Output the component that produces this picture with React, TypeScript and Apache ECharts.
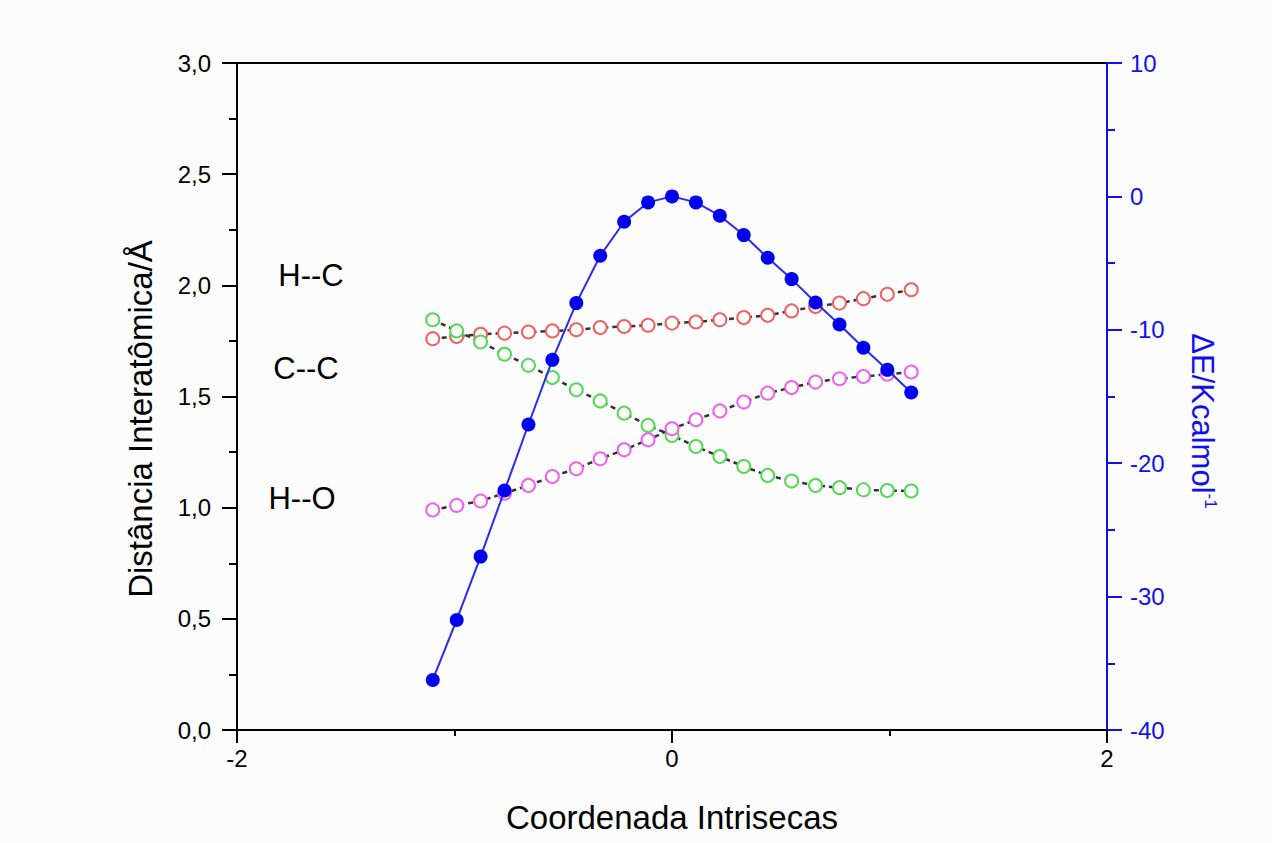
import React, { useEffect, useRef } from "react";
import * as echarts from "echarts";

const xCoords = [-1.1, -0.99, -0.88, -0.77, -0.66, -0.55, -0.44, -0.33, -0.22, -0.11, 0, 0.11, 0.22, 0.33, 0.44, 0.55, 0.66, 0.77, 0.88, 0.99, 1.1];
const hcDist = [1.76, 1.77, 1.78, 1.785, 1.79, 1.795, 1.8, 1.81, 1.815, 1.82, 1.83, 1.835, 1.845, 1.855, 1.865, 1.885, 1.905, 1.92, 1.94, 1.96, 1.98];
const ccDist = [1.845, 1.795, 1.745, 1.69, 1.64, 1.585, 1.53, 1.48, 1.425, 1.37, 1.325, 1.275, 1.23, 1.185, 1.145, 1.12, 1.1, 1.09, 1.08, 1.077, 1.075];
const hoDist = [0.99, 1.01, 1.03, 1.065, 1.1, 1.14, 1.175, 1.22, 1.26, 1.305, 1.355, 1.395, 1.435, 1.475, 1.515, 1.54, 1.565, 1.58, 1.59, 1.6, 1.61];
const energy = [-36.25, -31.75, -27.0, -22.05, -17.1, -12.25, -8.0, -4.45, -1.9, -0.45, 0, -0.45, -1.45, -2.9, -4.6, -6.2, -7.95, -9.6, -11.35, -13.0, -14.7];

const bondLabels = ["H--C", "C--C", "H--O"];

const FONT = "'Liberation Sans', Arial, 'DejaVu Sans', sans-serif";
const BLUE = "#1010ee";

function pairs(ys: number[]) {
  return xCoords.map((x, i) => [x, ys[i]]);
}

export default function App() {
  const ref = useRef<HTMLDivElement>(null);
  useEffect(() => {
    if (!ref.current) return;
    const chart = echarts.init(ref.current, undefined, { renderer: "svg" });
    const dashed = { color: "#333", width: 2.5, type: [5, 4] as any };
    const openSeries = (name: string, ys: number[], color: string) => ({
      name,
      type: "line",
      xAxisIndex: 0,
      yAxisIndex: 0,
      data: pairs(ys),
      symbol: "emptyCircle",
      symbolSize: 13,
      itemStyle: { color, borderColor: color, borderWidth: 1.6 },
      lineStyle: dashed,
      z: 2,
    });
    const labelStyle = (y: number) => ({ font: `31px ${FONT}`, fill: "#000", align: "center", verticalAlign: "middle" });
    chart.setOption({
      animation: false,
      backgroundColor: "#fcfcfc",
      textStyle: { fontFamily: FONT },
      grid: {
        left: 237,
        right: 165,
        top: 63,
        bottom: 113,
        show: true,
        borderColor: "#000",
        borderWidth: 2,
        backgroundColor: "transparent",
      },
      xAxis: {
        type: "value",
        min: -2,
        max: 2,
        interval: 2,
        axisLine: { show: true, onZero: false, lineStyle: { color: "#000", width: 2 } },
        axisTick: { show: true, length: 13, lineStyle: { color: "#000", width: 2 } },
        minorTick: { show: true, splitNumber: 2, length: 6, lineStyle: { color: "#000", width: 2 } },
        splitLine: { show: false },
        axisLabel: { color: "#000", fontSize: 24, margin: 16, fontFamily: FONT },
      },
      yAxis: [
        {
          type: "value",
          min: 0,
          max: 3,
          interval: 0.5,
          position: "left",
          axisLine: { show: true, onZero: false, lineStyle: { color: "#000", width: 2 } },
          axisTick: { show: true, length: 15, lineStyle: { color: "#000", width: 2 } },
          minorTick: { show: true, splitNumber: 2, length: 8, lineStyle: { color: "#000", width: 2 } },
          splitLine: { show: false },
          axisLabel: {
            color: "#000",
            fontSize: 24,
            margin: 26,
            fontFamily: FONT,
            formatter: (v: number) => v.toFixed(1).replace(".", ","),
          },
        },
        {
          type: "value",
          min: -40,
          max: 10,
          interval: 10,
          position: "right",
          axisLine: { show: true, onZero: false, lineStyle: { color: BLUE, width: 2 } },
          axisTick: { show: true, length: 15, lineStyle: { color: BLUE, width: 2 } },
          minorTick: { show: true, splitNumber: 2, length: 8, lineStyle: { color: BLUE, width: 2 } },
          splitLine: { show: false },
          axisLabel: { color: BLUE, fontSize: 24, margin: 23, fontFamily: FONT },
        },
      ],
      series: [
        openSeries("H--C", hcDist, "#ee6262"),
        openSeries("C--C", ccDist, "#55d855"),
        openSeries("H--O", hoDist, "#ee62ee"),
        {
          name: "ΔE",
          type: "line",
          xAxisIndex: 0,
          yAxisIndex: 1,
          data: pairs(energy),
          symbol: "circle",
          symbolSize: 14,
          itemStyle: { color: "#0000f0" },
          lineStyle: { color: "#2a2af0", width: 2 },
          z: 3,
        },
      ],
      graphic: [
        { type: "text", x: 311, y: 275, style: labelStyle(275) },
        { type: "text", x: 306, y: 368, style: labelStyle(368) },
        { type: "text", x: 302, y: 498, style: labelStyle(498) },
        {
          type: "text",
          x: 140,
          y: 419,
          rotation: Math.PI / 2,
          style: { text: "Distância Interatômica/Å", font: `33px ${FONT}`, fill: "#000", align: "center", verticalAlign: "middle" },
        },
        {
          type: "text",
          x: 672,
          y: 817,
          style: { text: "Coordenada Intrisecas", font: `33px ${FONT}`, fill: "#000", align: "center", verticalAlign: "middle" },
        },
        {
          type: "text",
          x: 1203,
          y: 421,
          rotation: -Math.PI / 2,
          style: {
            text: "{a|ΔE/Kcalmol}{b|-1}",
            align: "center",
            verticalAlign: "middle",
            rich: {
              a: { fontSize: 31, fontFamily: FONT, fill: BLUE, color: BLUE, lineHeight: 32, verticalAlign: "bottom" },
              b: { fontSize: 17, fontFamily: FONT, fill: BLUE, color: BLUE, lineHeight: 32, verticalAlign: "top", padding: [0, 0, 14, 0] },
            },
          },
        },
      ].map((g: any, i: number) => (i < 3 ? { ...g, style: { ...g.style, text: bondLabels[i] } } : g)),
    });
    return () => chart.dispose();
  }, []);
  return <div ref={ref} style={{ position: "fixed", left: 0, top: 0, width: 1272, height: 843 }} />;
}
